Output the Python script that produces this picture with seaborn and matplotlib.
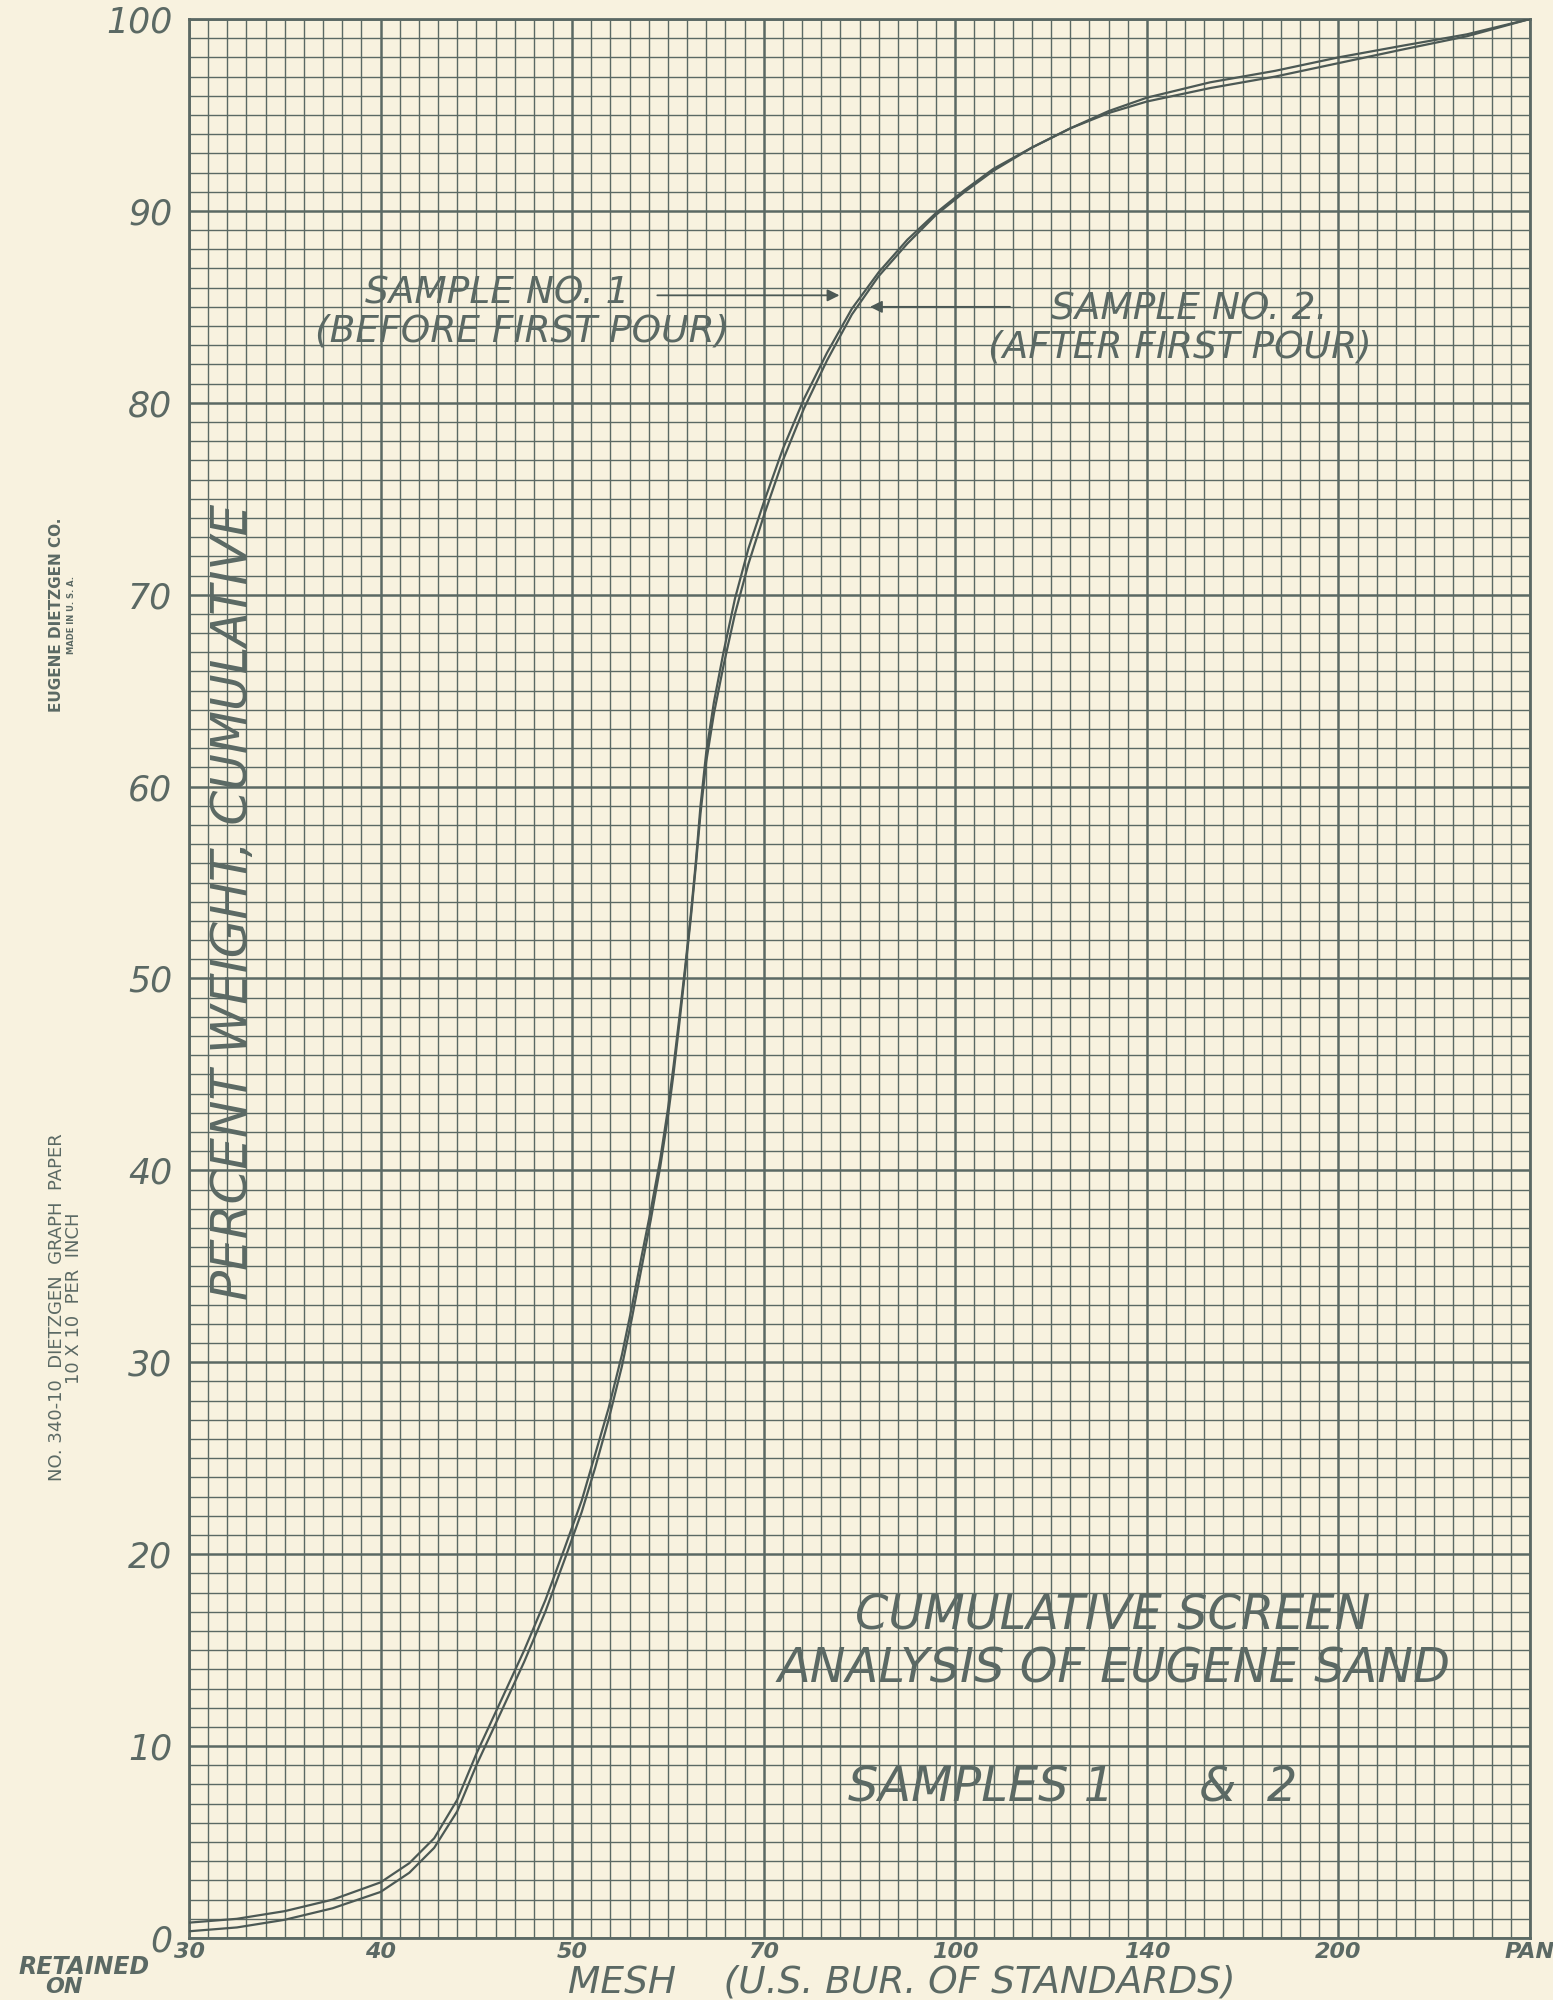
import matplotlib
matplotlib.use("Agg")
import matplotlib.pyplot as plt
import numpy as np
import pandas as pd
import seaborn as sns

# mesh sieves, equally spaced on the paper (one major square each)
mesh_labels = ["30", "40", "50", "70", "100", "140", "200", "PAN"]
pct_ticks = [0, 10, 20, 30, 40, 50, 60, 70, 80, 90, 100]

# curves, x in sieve steps (0 = 30 mesh ... 7 = pan)
curve_x = [0, 0.25, 0.5, 0.75, 1.0, 1.15, 1.28, 1.4, 1.5, 1.63, 1.75, 1.86,
           1.96, 2.05, 2.12, 2.19, 2.26, 2.31, 2.36, 2.41, 2.46, 2.5, 2.53,
           2.56, 2.59, 2.62, 2.645, 2.67, 2.7, 2.74, 2.79, 2.85, 2.92, 3.0,
           3.1, 3.21, 3.33, 3.46, 3.6, 3.75, 3.9, 4.05, 4.2, 4.4, 4.6, 4.8,
           5.0, 5.33, 5.67, 6.0, 6.33, 6.67, 7.0]
sample1_pct = [0.8, 1.0, 1.4, 2.0, 2.9, 3.9, 5.2, 7.2, 9.6, 12.4, 15.0, 17.6,
               20.3, 22.8, 25.2, 27.6, 30.4, 32.8, 35.4, 37.9, 40.6, 43.2, 45.5,
               48.0, 50.6, 53.4, 56.0, 59.0, 61.8, 64.4, 67.0, 69.8, 72.4, 74.8,
               77.6, 80.2, 82.6, 84.9, 86.8, 88.5, 89.9, 91.1, 92.2, 93.3, 94.3,
               95.2, 95.9, 96.7, 97.3, 98.0, 98.6, 99.2, 100]
sample2_pct = [0.35, 0.55, 0.95, 1.55, 2.4, 3.4, 4.7, 6.6, 9.0, 11.8, 14.4, 17.0,
               19.7, 22.2, 24.5, 27.0, 29.8, 32.2, 34.8, 37.4, 40.2, 42.8, 45.1,
               47.7, 50.4, 53.2, 55.8, 58.6, 61.3, 63.8, 66.3, 69.0, 71.6, 74.1,
               77.0, 79.7, 82.2, 84.6, 86.6, 88.3, 89.8, 91.0, 92.1, 93.3, 94.3,
               95.1, 95.7, 96.4, 97.0, 97.7, 98.4, 99.1, 100]

paper = "#f8f2df"
ink = "#5b6964"
pen = "#4c5955"

df = pd.DataFrame({
    "mesh": curve_x + curve_x,
    "pct": sample1_pct + sample2_pct,
    "sample": ["Sample No. 1"] * len(curve_x) + ["Sample No. 2"] * len(curve_x),
})

sns.set_theme(style="white")
plt.rcParams["font.family"] = ["DejaVu Sans"]

fig = plt.figure(figsize=(15.53, 20), dpi=100)
fig.patch.set_facecolor(paper)
ax = fig.add_axes([0.1217, 0.031, 0.8635, 0.9595])
ax.set_facecolor(paper)

sns.lineplot(data=df, x="mesh", y="pct", hue="sample", palette=[pen, pen],
             estimator=None, linewidth=1.6, legend=False, ax=ax, zorder=5)

ax.set_xlim(0, 7)
ax.set_ylim(0, 100)
ax.set_xticks(range(len(mesh_labels)))
ax.set_xticks(np.arange(0, 7.001, 0.1), minor=True)
ax.set_yticks(pct_ticks)
ax.set_yticks(np.arange(0, 100.1, 1), minor=True)
ax.grid(which="major", color=ink, linewidth=1.8)
ax.grid(which="minor", color=ink, linewidth=1.0)
ax.tick_params(which="both", length=0)
ax.set_xticklabels(mesh_labels, fontsize=16, fontstyle="italic",
                   fontweight="bold", color=ink)
ax.set_yticklabels([str(t) for t in pct_ticks], fontsize=25,
                   fontstyle="italic", color=ink)
ax.tick_params(axis="x", pad=3)
ax.tick_params(axis="y", pad=12)
for sp in ax.spines.values():
    sp.set_color(ink)
    sp.set_linewidth(2)
ax.set_xlabel("")
ax.set_ylabel("")

# labels written on the paper
ax.text(0.23, 54, "PERCENT WEIGHT, CUMULATIVE", rotation=90, ha="center",
        va="center", fontsize=36, fontstyle="italic", color=ink)

note = dict(ha="center", va="center", fontsize=27, fontstyle="italic", color=ink)
ax.text(1.61, 85.7, "SAMPLE NO. 1", **note)
ax.text(1.74, 83.7, "(BEFORE FIRST POUR)", **note)
ax.annotate("", xy=(3.41, 85.6), xytext=(2.43, 85.6),
            arrowprops=dict(arrowstyle="-|>", color=pen, lw=1.3,
                            mutation_scale=18))
ax.text(5.22, 84.85, "SAMPLE NO. 2.", **note)
ax.text(5.17, 82.9, "(AFTER FIRST POUR)", **note)
ax.annotate("", xy=(3.54, 85.0), xytext=(4.3, 85.0),
            arrowprops=dict(arrowstyle="-|>", color=pen, lw=1.3,
                            mutation_scale=18))

title = dict(va="center", fontsize=34.5, fontstyle="italic", color=ink)
ax.text(4.82, 16.8, "CUMULATIVE SCREEN", ha="center", **title)
ax.text(4.83, 14.0, "ANALYSIS OF EUGENE SAND", ha="center", **title)
ax.text(3.44, 7.8, "SAMPLES 1", ha="left", **title)
ax.text(5.27, 7.8, "&  2", ha="left", **title)

# margin print of the graph paper and bottom captions
fig.text(84 / 1553, 1 - 1967 / 2000, "RETAINED", ha="center", va="center",
         fontsize=17, fontstyle="italic", fontweight="bold", color=ink)
fig.text(64 / 1553, 1 - 1987 / 2000, "ON", ha="center", va="center",
         fontsize=16, fontstyle="italic", fontweight="bold", color=ink)
fig.text(902 / 1553, 1 - 1992 / 2000, "MESH    (U.S. BUR. OF STANDARDS)",
         ha="center", va="baseline", fontsize=27, fontstyle="italic",
         color=ink)

fig.text(57 / 1553, 1 - 615 / 2000, "EUGENE DIETZGEN CO.", rotation=90,
         ha="center", va="center", fontsize=11, fontweight="bold", color=ink)
fig.text(71 / 1553, 1 - 615 / 2000, "MADE IN U. S. A.", rotation=90,
         ha="center", va="center", fontsize=6, fontweight="bold", color=ink)
fig.text(57 / 1553, 1 - 1307 / 2000, "NO. 340-10  DIETZGEN  GRAPH  PAPER",
         rotation=90, ha="center", va="center", fontsize=13, color=ink)
fig.text(74 / 1553, 1 - 1298 / 2000, "10 X 10  PER  INCH", rotation=90,
         ha="center", va="center", fontsize=13, color=ink)

fig.savefig("out.png", dpi=100, facecolor=paper)
